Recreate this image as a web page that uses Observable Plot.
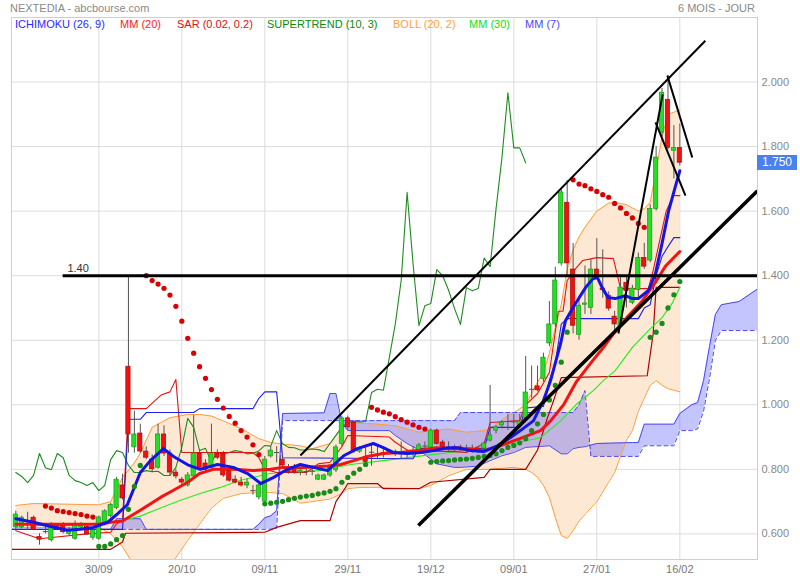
<!DOCTYPE html>
<html><head><meta charset="utf-8">
<script src="https://cdn.jsdelivr.net/npm/d3@7"></script>
<script src="https://cdn.jsdelivr.net/npm/@observablehq/plot@0.6"></script>
<style>
body{margin:0;background:#fff;font-family:"Liberation Sans",Arial,sans-serif;}
#wrap{position:relative;width:800px;height:580px;overflow:hidden}
.t{position:absolute;font-size:11px;line-height:13px;white-space:nowrap}
</style></head><body><div id="wrap"></div>
<script>
// ---- tick labels ----
const xLabels = ["30/09","20/10","09/11","29/11","19/12","09/01","27/01","16/02"];
const xLabelIdx = [14,28,42,56,70,84,98,112];
const yTicks = [0.6,0.8,1.0,1.2,1.4,1.6,1.8,2.0];

// ---- daily candles (index 0..112) ----
const open = [
0.62,0.62,0.635,0.65,0.59,0.61,0.58,0.625,0.626,0.60,
0.585,0.62,0.622,0.588,0.585,0.63,0.655,0.68,0.75,1.118,
0.868,0.911,0.855,0.83,0.805,0.908,0.849,0.79,0.768,0.75,
0.778,0.849,0.818,0.805,0.849,0.849,0.796,0.768,0.759,0.75,
0.735,0.713,0.70,0.84,0.85,0.83,0.80,0.806,0.79,0.795,
0.795,0.768,0.768,0.781,0.797,0.879,0.958,0.945,0.855,0.836,
0.855,0.845,0.85,0.852,0.85,0.845,0.845,0.855,0.855,0.87,
0.868,0.92,0.883,0.865,0.868,0.868,0.862,0.862,0.862,0.864,
0.889,0.92,0.936,0.945,0.945,0.935,0.958,1.045,1.057,1.08,
1.19,1.249,1.438,1.626,1.419,1.217,1.31,1.30,1.419,1.36,
1.338,1.273,1.245,1.378,1.316,1.356,1.455,1.447,1.607,1.843,
1.945,1.787,1.796];
const high = [
0.67,0.655,0.667,0.655,0.60,0.625,0.635,0.63,0.635,0.62,
0.64,0.635,0.63,0.615,0.655,0.675,0.695,0.775,0.785,1.395,
0.98,0.94,0.87,0.845,0.94,0.935,0.86,0.80,0.775,0.79,
0.967,0.86,0.83,0.94,0.86,0.855,0.81,0.78,0.775,0.77,
0.75,0.755,0.84,0.87,0.87,0.845,0.815,0.815,0.80,0.81,
0.81,0.785,0.785,0.81,0.875,0.965,0.965,0.95,0.87,0.875,
0.875,0.87,0.865,0.86,0.86,0.885,0.86,0.87,0.88,0.885,
0.925,0.925,0.89,0.885,0.875,0.875,0.875,0.875,0.87,0.885,
1.06,0.935,0.95,0.97,0.97,0.97,1.15,1.12,1.12,1.16,
1.32,1.426,1.67,1.695,1.50,1.33,1.43,1.45,1.515,1.48,
1.35,1.29,1.40,1.40,1.37,1.47,1.50,1.62,1.80,1.98,
2.02,1.865,1.87];
const low = [
0.61,0.615,0.611,0.61,0.565,0.60,0.575,0.61,0.60,0.595,
0.58,0.615,0.595,0.58,0.58,0.625,0.65,0.675,0.705,0.85,
0.85,0.85,0.83,0.79,0.80,0.84,0.78,0.77,0.75,0.745,
0.77,0.80,0.79,0.80,0.83,0.775,0.76,0.755,0.745,0.74,
0.72,0.705,0.695,0.835,0.82,0.805,0.785,0.785,0.78,0.78,
0.78,0.765,0.765,0.775,0.79,0.87,0.92,0.85,0.85,0.82,
0.81,0.83,0.835,0.845,0.84,0.83,0.835,0.84,0.85,0.86,
0.865,0.875,0.86,0.855,0.855,0.855,0.85,0.85,0.85,0.86,
0.885,0.91,0.925,0.92,0.925,0.93,0.95,1.02,1.04,1.07,
1.18,1.24,1.43,1.40,1.22,1.20,1.28,1.28,1.39,1.33,
1.29,1.23,1.24,1.30,1.31,1.33,1.42,1.44,1.60,1.83,
1.79,1.70,1.74];
const close = [
0.66,0.65,0.632,0.612,0.582,0.607,0.626,0.615,0.605,0.612,
0.63,0.628,0.598,0.611,0.651,0.67,0.69,0.768,0.71,0.908,
0.908,0.855,0.836,0.80,0.908,0.849,0.79,0.778,0.759,0.781,
0.849,0.805,0.799,0.849,0.836,0.781,0.765,0.759,0.75,0.759,
0.734,0.75,0.83,0.858,0.852,0.812,0.79,0.79,0.796,0.793,
0.794,0.781,0.781,0.806,0.868,0.958,0.93,0.858,0.865,0.823,
0.853,0.847,0.852,0.858,0.855,0.848,0.85,0.857,0.874,0.872,
0.92,0.879,0.868,0.867,0.86,0.86,0.863,0.861,0.855,0.88,
0.905,0.93,0.945,0.948,0.947,0.948,1.038,1.048,1.045,1.146,
1.249,1.385,1.658,1.438,1.245,1.307,1.314,1.419,1.40,1.355,
1.298,1.249,1.363,1.353,1.36,1.455,1.428,1.607,1.766,1.967,
1.796,1.796,1.75];
const chikouShift = 26;

// ---- Bollinger (20,2) ----
const bbIdx = [0,3,14,16,18,20,21,22,23,26,29,31,33,35,38,41,43,45,48,50,53,55,56,58,61,64,66,68,70,73,76,79,80,83,84,86,87,88,89,90,91,92,93,94,95,96,98,100,101,103,104,105,106,107,108,109,110,112];
const bbUpper = [0.688,0.694,0.69,0.70,0.775,0.82,0.85,0.89,0.93,0.96,
0.97,0.97,0.965,0.95,0.926,0.895,0.883,0.878,0.873,0.864,
0.88,0.93,0.945,0.943,0.94,0.935,0.925,0.915,0.92,0.925,
0.915,0.92,0.925,0.965,0.975,1.00,1.035,1.07,1.10,1.16,
1.24,1.31,1.42,1.48,1.52,1.55,1.60,1.625,1.627,1.62,
1.61,1.60,1.607,1.627,1.725,1.83,1.90,1.913];
const bbLower = [0.62,0.62,0.62,0.60,0.56,0.50,0.48,0.47,0.46,0.50,
0.58,0.63,0.68,0.71,0.725,0.728,0.728,0.725,0.695,0.70,
0.708,0.725,0.74,0.744,0.744,0.742,0.741,0.74,0.75,0.78,
0.80,0.80,0.80,0.805,0.806,0.80,0.79,0.775,0.75,0.713,
0.65,0.595,0.586,0.61,0.64,0.66,0.70,0.76,0.79,0.89,
0.92,0.98,1.02,1.06,1.075,1.06,1.05,1.04];

// ---- Ichimoku cloud (26,9) ----
const cloudIdx = [-1,16,17,21,22,40,41,42,43,44,45,52,53,54,55,56,63,64,66,68,71,74,75,78,80,82,84,86,90,92,93,94,95,96,97,98,104,105,106,111,112,114,115,116,117,118,119,122,124,125.2];
const spanA = [0.614,0.614,0.647,0.647,0.614,0.614,0.63,0.65,0.656,0.672,
0.973,0.975,1.035,1.035,0.943,0.92,0.92,0.905,0.88,0.86,
0.817,0.806,0.806,0.81,0.827,0.842,0.852,0.868,0.873,0.848,
0.848,0.864,0.868,0.87,0.875,0.88,0.883,0.883,0.94,0.94,
0.973,1.0,1.007,1.075,1.18,1.28,1.31,1.32,1.345,1.36];
const spanB = [0.614,0.614,0.614,0.614,0.614,0.614,0.614,0.614,0.615,0.617,
0.951,0.951,0.951,0.951,0.951,0.951,0.951,0.951,0.951,0.951,
0.951,0.951,0.976,0.976,0.976,0.976,0.976,0.976,0.976,0.976,
0.976,0.976,1.0,1.044,0.84,0.84,0.84,0.84,0.873,0.873,
0.92,0.92,0.925,0.98,1.08,1.20,1.23,1.23,1.23,1.23];
const kijun = [[-1,0.614],[18,0.614],[19,0.955],[21,0.955],[22,0.976],[30,0.976],[31,0.988],[40,0.988],[41,1.02],[42,1.04],[44,1.04],[45,0.836],[67,0.833],[68,0.865],[79,0.865],[80,0.93],[85,0.93],[86,0.99],[89,0.995],[90,1.075],[91,1.13],[92,1.25],[93,1.267],[105,1.267],[106,1.30],[107,1.31],[108,1.40],[109,1.46],[110,1.49],[111,1.518],[112,1.518]];
const tenkan = [[0,0.61],[4,0.585],[12,0.60],[16,0.605],[17,0.631],[18,0.64],[19,0.988],[22,0.988],[24.5,1.03],[26,1.04],[27,1.078],[28,0.852],[40,0.852],[41,0.836],[42,0.80],[44,0.79],[49,0.79],[51,0.817],[53,0.822],[55,0.87],[56,0.905],[63,0.90],[64,0.884],[66,0.86],[67,0.858],[74,0.855],[76,0.852],[79,0.88],[80,0.945],[85,0.951],[86,1.0],[88,1.035],[90,1.10],[91.5,1.29],[92.3,1.29],[93,1.385],[94.6,1.426],[95.6,1.447],[98,1.456],[100.8,1.453],[102,1.36],[106.7,1.36],[107.5,1.416],[108.5,1.50],[109.7,1.60],[110.9,1.648],[112,1.648]];
const darkRed = [[-1,0.552],[16,0.552],[18,0.575],[18.5,0.602],[42,0.605],[44,0.62],[48,0.641],[53,0.641],[54,0.70],[55.5,0.74],[56,0.756],[61,0.756],[62,0.74],[68,0.74],[70,0.76],[79,0.775],[80,0.80],[86,0.80],[88,0.86],[89.5,0.95],[90.7,1.013],[92,1.084],[106.5,1.09],[107.5,1.22],[108,1.364],[112,1.364]];

// ---- moving averages ----
const mm7 = [[0,0.647],[3,0.636],[5.9,0.623],[8.7,0.611],[10.9,0.614],[13.1,0.62],[15.5,0.636],[17.2,0.663],[18.8,0.69],[19.9,0.74],[21,0.79],[22.7,0.827],[24.9,0.864],[26.6,0.84],[29,0.814],[31.1,0.80],[34,0.815],[36.7,0.806],[39.1,0.787],[41.3,0.756],[43.5,0.775],[45.8,0.80],[48,0.815],[50.2,0.806],[52.6,0.796],[55.3,0.842],[57.6,0.864],[60.3,0.88],[62,0.867],[63.7,0.852],[66.1,0.849],[68.3,0.852],[70.5,0.858],[72.8,0.867],[74.5,0.867],[76.7,0.858],[78.9,0.855],[81.2,0.873],[83.4,0.898],[85.1,0.92],[87.3,0.95],[89,1.013],[90.2,1.075],[91.9,1.19],[92.7,1.26],[94.4,1.314],[96.1,1.363],[97.3,1.39],[98.1,1.394],[98.9,1.363],[99.9,1.332],[101.1,1.329],[102.8,1.338],[104,1.329],[105,1.329],[106.7,1.354],[107.9,1.407],[109,1.5],[110.1,1.60],[111.3,1.68],[112,1.725]];
const mm20 = [[0,0.63],[14,0.63],[16,0.636],[18,0.64],[21,0.673],[24.4,0.713],[26.6,0.735],[29,0.76],[31,0.787],[33.3,0.80],[36.7,0.80],[40,0.796],[43,0.80],[45,0.806],[48,0.805],[52.6,0.81],[54.8,0.815],[57,0.827],[59.3,0.84],[62,0.849],[65,0.852],[67.7,0.858],[71,0.867],[73.3,0.864],[76.2,0.864],[79,0.858],[81.7,0.873],[85,0.895],[88.5,0.92],[90.2,0.95],[92.4,1.0],[94.5,1.07],[97,1.13],[99,1.175],[101,1.225],[103.3,1.275],[105.6,1.32],[107.9,1.38],[109.6,1.43],[112,1.475]];
const mm30 = [[0,0.632],[11,0.626],[16,0.636],[17.7,0.64],[21,0.655],[24.4,0.68],[27.8,0.704],[31.1,0.725],[34.5,0.744],[37.9,0.766],[42.9,0.787],[45.2,0.79],[50.9,0.796],[56.5,0.815],[62,0.827],[67.7,0.84],[73.3,0.852],[78.9,0.864],[84.6,0.883],[88.5,0.898],[91.9,0.95],[94.7,1.004],[97.4,1.044],[99.1,1.075],[101.1,1.106],[104,1.178],[106.7,1.23],[109,1.27],[110.7,1.314],[112,1.364]];

// ---- SAR / SuperTrend dots ----
const dotsRed = [[5,0.686],[6,0.68],[7,0.672],[8,0.669],[9,0.666],[10,0.663],[11,0.66],[12,0.655],[13,0.652],
[22,1.40],[23,1.385],[24,1.374],[25,1.361],[26,1.34],[27,1.305],[28,1.259],[29,1.206],[30,1.16],[31,1.118],[32,1.082],[33,1.047],[34,1.017],[35,0.99],[36,0.964],[37,0.943],[38,0.92],[39,0.90],[40,0.876],[41,0.846],
[60,0.992],[61,0.984],[62,0.977],[63,0.972],[64,0.963],[65,0.954],[66,0.946],[67,0.938],[68,0.93],[69,0.925],
[94,1.697],[95,1.684],[96,1.679],[97,1.669],[98,1.661],[99,1.651],[100,1.643],[101,1.624],[102,1.61],[103,1.593],[104,1.579],[105,1.562],[106,1.55]];
const dotsGreen = [[14,0.561],[15,0.561],[16,0.569],[17,0.582],[18,0.595],[19,0.676],[20,0.747],[21,0.812],
[42,0.693],[43,0.695],[44,0.698],[45,0.701],[46,0.706],[47,0.71],[48,0.714],[49,0.717],[50,0.719],[51,0.724],[52,0.727],[53,0.732],[54,0.74],[55,0.76],[56,0.775],[57,0.788],[58,0.80],[59,0.815],
[70,0.822],[71,0.824],[72,0.826],[73,0.827],[74,0.829],[75,0.831],[76,0.832],[77,0.834],[78,0.837],[79,0.84],[80,0.843],[81,0.848],[82,0.858],[83,0.868],[84,0.874],[85,0.882],[86,0.895],[87,0.92],[88,0.941],[89,0.97],[90,1.015],[91,1.06],[92,1.132],[93,1.225],
[107,1.209],[108,1.225],[109,1.252],[110,1.30],[111,1.341],[112,1.382]];

// ---- hand-drawn trend lines [x1,y1,x2,y2,weight] ----
const trendLines = [
 [7.9,1.40,125.1,1.40,3],
 [48.0,0.843,116.3,2.128,2],
 [67.9,0.626,125.1,1.663,3.5],
 [101.65,1.221,109.1,1.962,2],
 [107.9,1.875,112.95,1.648,2],
 [109.9,2.02,114.1,1.766,2]
];
const levelLabel = {i:8.7, v:1.40, text:"1.40"};

// ---- build tables ----
const candles = close.map((c,i)=>({i,o:open[i],h:high[i],l:low[i],c}));
const bodies = candles.filter(d=>Math.abs(d.c-d.o)>=0.004);
const ups = bodies.filter(d=>d.c>d.o), downs = bodies.filter(d=>d.c<d.o);
const dojis = candles.filter(d=>Math.abs(d.c-d.o)<0.004);
const bb = bbIdx.map((i,k)=>({i,u:bbUpper[k],l:bbLower[k]}));
const cloud = cloudIdx.map((i,k)=>({i,a:spanA[k],b:spanB[k]}));
const chikou = close.slice(chikouShift).map((c,k)=>[k,c]);
const tl = trendLines.map(d=>({x1:d[0],y1:d[1],x2:d[2],y2:d[3],w:d[4]}));
const px = d=>d[0], py = d=>d[1];
const hw = 0.36;

const plot = Plot.plot({
  width:800, height:580,
  marginLeft:11, marginRight:43, marginTop:17, marginBottom:21,
  style:{fontFamily:"'Liberation Sans', Arial, sans-serif", fontSize:"11px", background:"transparent"},
  x:{domain:[-0.725,125.1]},
  y:{domain:[0.5206,2.2]},
  marks:[
    Plot.gridX(xLabelIdx,{stroke:"#dcdcdc",strokeOpacity:1}),
    Plot.gridY(yTicks,{stroke:"#dcdcdc",strokeOpacity:1}),
    Plot.areaY(bb,{x:"i",y1:"l",y2:"u",fill:"#fce8d3",clip:true}),
    Plot.areaY(cloud,{x:"i",y1:"a",y2:"b",fill:"#3a3aff",fillOpacity:0.3,clip:true}),
    Plot.line(bb,{x:"i",y:"u",stroke:"#ff9d3c",strokeWidth:1,clip:true}),
    Plot.line(bb,{x:"i",y:"l",stroke:"#ff9d3c",strokeWidth:1,clip:true}),
    Plot.line(cloud,{x:"i",y:"a",stroke:"#4a4af0",strokeWidth:1,clip:true}),
    Plot.line(cloud,{x:"i",y:"b",stroke:"#4a4af0",strokeWidth:1,strokeDasharray:"4,3",clip:true}),
    Plot.line(darkRed,{x:px,y:py,stroke:"#b00000",strokeWidth:1.2,clip:true}),
    Plot.line(mm30,{x:px,y:py,stroke:"#22ee22",strokeWidth:1.1}),
    Plot.line(chikou,{x:px,y:py,stroke:"#1e8c1e",strokeWidth:1.1}),
    Plot.line(tenkan,{x:px,y:py,stroke:"#e01414",strokeWidth:1.1}),
    Plot.line(kijun,{x:px,y:py,stroke:"#2020ee",strokeWidth:1.1,clip:true}),
    Plot.ruleX(candles,{x:"i",y1:"l",y2:"h",stroke:"#555",strokeWidth:1}),
    Plot.rect(ups,{x1:d=>d.i-hw,x2:d=>d.i+hw,y1:"o",y2:"c",fill:"#27dc27",stroke:"#169c16",strokeWidth:0.7}),
    Plot.rect(downs,{x1:d=>d.i-hw,x2:d=>d.i+hw,y1:"c",y2:"o",fill:"#f01212",stroke:"#b00808",strokeWidth:0.7}),
    Plot.link(dojis,{x1:d=>d.i-0.45,x2:d=>d.i+0.45,y1:"c",y2:"c",stroke:"#555",strokeWidth:1}),
    Plot.line(mm20,{x:px,y:py,stroke:"#f01414",strokeWidth:3}),
    Plot.line(mm7,{x:px,y:py,stroke:"#1414e6",strokeWidth:3}),
    Plot.dot(dotsRed,{x:px,y:py,r:2.6,fill:"#d80000"}),
    Plot.dot(dotsGreen,{x:px,y:py,r:2.6,fill:"#1a8a1a"}),
    Plot.link(tl,{x1:"x1",y1:"y1",x2:"x2",y2:"y2",stroke:"#000",strokeWidth:d=>d.w,clip:true}),
    Plot.text([levelLabel],{x:"i",y:"v",text:"text",textAnchor:"start",dy:-7,fill:"#333",fontSize:11}),
    Plot.frame({stroke:"#cfcfcf"}),
    Plot.axisY(yTicks,{anchor:"right",tickSize:0,tickPadding:4,tickFormat:d3.format(".3f"),color:"#888",fill:"#888",label:null}),
    Plot.axisX(xLabelIdx,{tickSize:0,tickPadding:6,tickFormat:d=>xLabels[xLabelIdx.indexOf(d)],color:"#777",fill:"#777",label:null})
  ]
});
const wrap = document.getElementById("wrap");
wrap.appendChild(plot);

function addText(txt, css){
  const s=document.createElement("div"); s.className="t"; s.textContent=txt;
  Object.assign(s.style, css); wrap.appendChild(s); return s;
}
addText("NEXTEDIA - abcbourse.com",{left:"10px",top:"2px",color:"#8a8a8a"});
addText("6 MOIS - JOUR",{right:"45px",top:"2px",color:"#8a8a8a"});
const legend = [["ICHIMOKU (26, 9)","#2b2bff",15],["MM (20)","#ff1a1a",120],["SAR (0.02, 0.2)","#e01010",177],["SUPERTREND (10, 3)","#0a8a0a",267],["BOLL (20, 2)","#ffa040",393],["MM (30)","#10e010",469],["MM (7)","#4848ff",525]];
legend.forEach(([t,c,x])=>addText(t,{left:x+"px",top:"18px",color:c}));
const yLast = plot.scale("y").apply(close[close.length-1]);
const box = addText(d3.format(".3f")(close[close.length-1]),{left:"757px",top:(yLast-7.5)+"px",width:"40px",height:"15px",lineHeight:"15px",textAlign:"center",background:"#4a80f0",color:"#fff",fontSize:"12px"});
</script></body></html>
